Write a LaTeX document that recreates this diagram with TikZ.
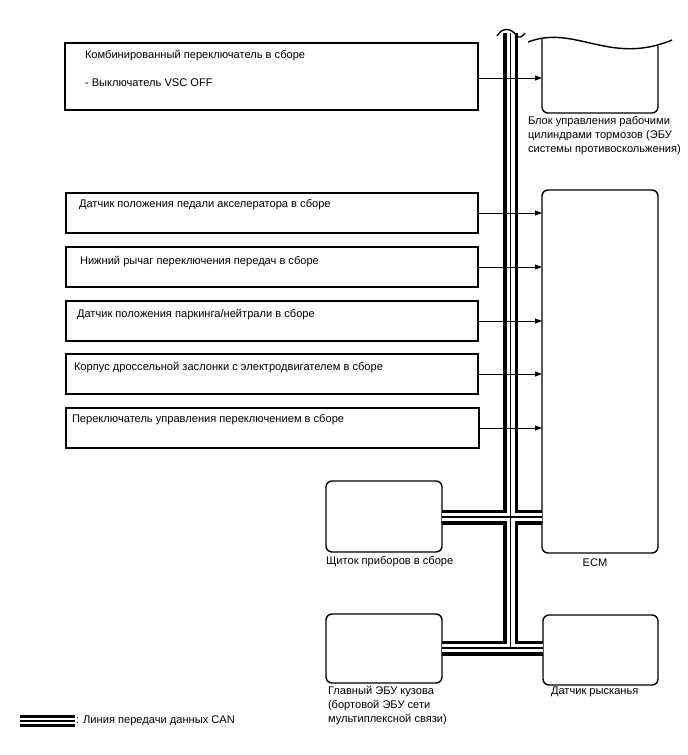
\documentclass[tikz,border=0pt]{standalone}
\usepackage{fontspec}
\setmainfont{Liberation Sans}
\usetikzlibrary{arrows.meta}
\begin{document}
\begin{tikzpicture}[x=1pt,y=-1pt,
  every node/.style={font=\fontsize{11.1}{14.3}\selectfont, inner sep=0pt, outer sep=0pt},
  sqbox/.style={draw, line width=1.2pt},
  rbox/.style={draw, line width=1.4pt, rounded corners=6pt},
  lbl/.style={anchor=west, align=left},
  sig/.style={line width=0.9pt, -{Triangle[length=7pt,width=5pt]}},
  canA/.style={line width=15pt, black},
  canB/.style={line width=8pt, white},
  canC/.style={line width=1.3pt, black},
]
\useasboundingbox (0,0) rectangle (688,755);

% input boxes
\node[sqbox, minimum width=413pt, minimum height=67pt] (b1) at (271.5,76.5) {};
\node[sqbox, minimum width=412pt, minimum height=40pt] (b2) at (272,213) {};
\node[sqbox, minimum width=412pt, minimum height=40pt] (b3) at (272,267) {};
\node[sqbox, minimum width=412pt, minimum height=40pt] (b4) at (272,321) {};
\node[sqbox, minimum width=412pt, minimum height=40pt] (b5) at (272,374) {};
\node[sqbox, minimum width=413pt, minimum height=40pt] (b6) at (272.5,428) {};

\node[lbl] (t1a) at (85,56) {Комбинированный переключатель в сборе};
\node[lbl] (t1b) at (85,83) {- Выключатель VSC OFF};
\node[lbl] (t2) at (79,205) {Датчик положения педали акселератора в сборе};
\node[lbl] (t3) at (80,262) {Нижний рычаг переключения передач в сборе};
\node[lbl] (t4) at (77,315) {Датчик положения паркинга/нейтрали в сборе};
\node[lbl] (t5) at (74,368) {Корпус дроссельной заслонки с электродвигателем в сборе};
\node[lbl] (t6) at (72,420) {Переключатель управления переключением в сборе};

% ECUs
\node[rbox, minimum width=116pt, minimum height=363pt] (ecm) at (600,371.5) {};
\node[rbox, minimum width=116pt, minimum height=71pt] (shch) at (384,516.5) {};
\node[rbox, minimum width=116pt, minimum height=69pt] (glav) at (384,648.5) {};
\node[rbox, minimum width=115pt, minimum height=70pt] (dat) at (600.5,650) {};

\node (tecm) at (595,563) {ECM};
\node[lbl] (tshch) at (326,562) {Щиток приборов в сборе};
\node[anchor=north west, align=left] (tglav) at (328,686) {Главный ЭБУ кузова\\(бортовой ЭБУ сети\\мультиплексной связи)};
\node[lbl] (tdat) at (551,692) {Датчик рысканья};
\node[anchor=north west, align=left] (tabs) at (528,116) {Блок управления рабочими\\цилиндрами тормозов (ЭБУ\\системы противоскольжения)};

% brake actuator (cut-off box)
\coordinate (absL) at (542,78);
\draw[line width=1.4pt, rounded corners=6pt] (542,38.5) -- (542,113) -- (658,113) -- (658,46);
\draw[line width=1.4pt] (528,42) .. controls (575,24) and (610,66) .. (672,40);

% CAN bus
\coordinate (vt) at (510.5,33);
\coordinate (vb) at (510.5,648);
\coordinate (j1) at (510.5,517);
\foreach \s in {canA,canB,canC}{
  \draw[\s] (vt) -- (vb);
  \draw[\s] (shch.east |- j1) -- (ecm.west |- j1);
  \draw[\s] (glav.east |- vb) -- (dat.west |- vb);
}
\draw[line width=1.4pt] (497,36) .. controls (503,26) and (512,29) .. (516,35) .. controls (519,39) and (522,37) .. (525,33);

% signal arrows
\draw[sig] (b1.east |- absL) -- (absL);
\foreach \b in {b2,b3,b4,b5,b6}{
  \draw[sig] (\b.east) -- (ecm.west |- \b.east);
}

% legend
\coordinate (lg1) at (20,721);
\coordinate (lg2) at (75,721);
\draw[line width=12pt] (lg1) -- (lg2);
\draw[line width=6pt, white] (lg1) -- (lg2);
\draw[line width=1.3pt] (lg1) -- (lg2);
\node[lbl] (tleg) at (76,721) {: Линия передачи данных CAN};
\end{tikzpicture}
\end{document}
